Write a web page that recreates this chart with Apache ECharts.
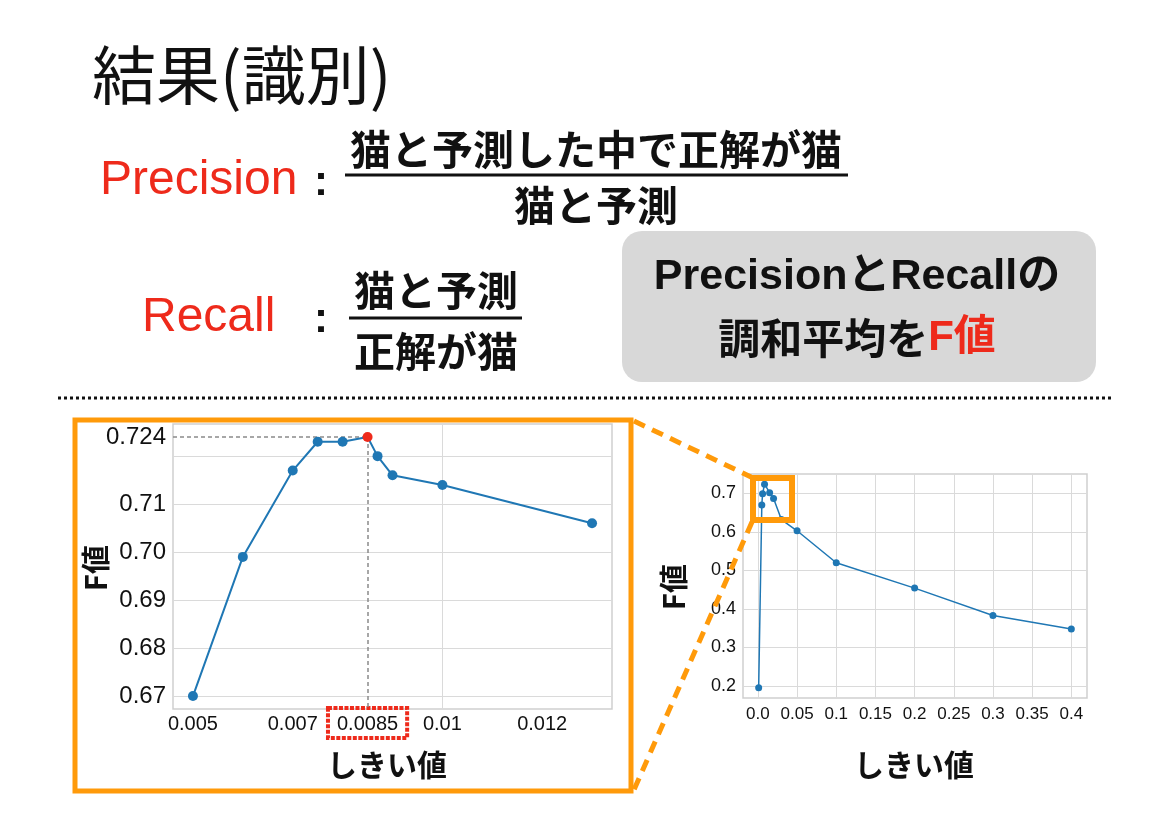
<!DOCTYPE html>
<html><head><meta charset="utf-8">
<script src="https://cdn.jsdelivr.net/npm/echarts@6/dist/echarts.min.js"></script>
<style>html,body{margin:0;padding:0;background:#fff;}#c{width:1169px;height:826px;}</style>
</head><body><div id="c"></div>
<script>
// ---- zoomed view (left chart) ----
const zoomThreshold = [0.005, 0.006, 0.007, 0.0075, 0.008, 0.0085, 0.0087, 0.009, 0.01, 0.013];
const zoomF = [0.670, 0.699, 0.717, 0.723, 0.723, 0.724, 0.720, 0.716, 0.714, 0.706];
const zoomXTickLabels = [0.005, 0.007, 0.0085, 0.01, 0.012];
const zoomXGrid = [0.005, 0.006, 0.007, 0.008, 0.009, 0.010, 0.011, 0.012, 0.013];
const zoomYTickLabels = [0.67, 0.68, 0.69, 0.70, 0.71, 0.724];
const zoomYGrid = [0.67, 0.68, 0.69, 0.70, 0.71, 0.72];
const zoomXRange = [0.0046, 0.0134];
const zoomYRange = [0.6673, 0.7267];
// ---- full view (right chart) ----
const fullThreshold = [0.001, 0.005, 0.006, 0.0085, 0.015, 0.02, 0.03, 0.05, 0.1, 0.2, 0.3, 0.4];
const fullF = [0.195, 0.670, 0.699, 0.724, 0.702, 0.687, 0.632, 0.603, 0.520, 0.454, 0.383, 0.348];
const fullXTicks = [0, 0.05, 0.1, 0.15, 0.2, 0.25, 0.3, 0.35, 0.4];
const fullYTicks = [0.2, 0.3, 0.4, 0.5, 0.6, 0.7];
const fullXRange = [-0.019, 0.42];
const fullYRange = [0.1685, 0.7505];

const blue = '#1f77b4', red = '#EE2A1B', orange = '#FF9A0A';
const latin = "'Liberation Sans', 'Noto Sans CJK JP', sans-serif";
const cjk = "'Noto Sans CJK JP', 'Liberation Sans', sans-serif";
const gridLine = { color: '#dadada', width: 1, type: 'solid' };
const best = zoomF.indexOf(Math.max(...zoomF));
const bestX = zoomThreshold[best], bestY = zoomF[best];
const guide = { color: '#8a8a8a', width: 1.5, type: [4, 3] };

const zoomPairs = zoomThreshold.map((x, i) => i === best
  ? { value: [x, zoomF[i]], itemStyle: { color: red } } : [x, zoomF[i]]);
const fullPairs = fullThreshold.map((x, i) => [x, fullF[i]]);

function axisCommon(extra) {
  return Object.assign({ type: 'value', axisLine: { show: false }, axisTick: { show: false }, splitLine: { show: false } }, extra);
}
const labelBox = { fontSize: 20, color: '#111', fontFamily: latin, padding: [6, 9, 4, 9], borderWidth: 4 };

const chart = echarts.init(document.getElementById('c'), null, { renderer: 'canvas' });
const option = {
  animation: false,
  backgroundColor: '#ffffff',
  textStyle: { fontFamily: latin },
  grid: [
    { left: 173, top: 424, width: 439, height: 285, show: true, borderColor: '#cfcfcf', borderWidth: 1.5, backgroundColor: 'transparent' },
    { left: 743, top: 474, width: 344, height: 224, show: true, borderColor: '#cfcfcf', borderWidth: 1.5, backgroundColor: 'transparent' }
  ],
  xAxis: [
    axisCommon({ gridIndex: 0, min: zoomXRange[0], max: zoomXRange[1],
      axisLabel: { customValues: zoomXTickLabels, fontSize: 20, color: '#111', margin: -1, fontFamily: latin,
        formatter: v => (Math.abs(v - bestX) < 1e-9 ? '{hl|' : '{n|') + v + '}',
        rich: {
          n: Object.assign({}, labelBox, { borderColor: 'transparent' }),
          hl: Object.assign({}, labelBox, { borderColor: red, borderType: [4, 1.5] })
        } } }),
    axisCommon({ gridIndex: 1, min: fullXRange[0], max: fullXRange[1],
      axisLabel: { customValues: fullXTicks, fontSize: 17, color: '#111', margin: 8, fontFamily: latin,
        formatter: v => v === 0 ? '0.0' : String(+v.toFixed(2)) } })
  ],
  yAxis: [
    axisCommon({ gridIndex: 0, min: zoomYRange[0], max: zoomYRange[1],
      axisLabel: { customValues: zoomYTickLabels, fontSize: 24, color: '#111', margin: 7, fontFamily: latin,
        formatter: v => Math.abs(v - bestY) < 1e-9 ? String(v) : v.toFixed(2) } }),
    axisCommon({ gridIndex: 1, min: fullYRange[0], max: fullYRange[1],
      axisLabel: { customValues: fullYTicks, fontSize: 18, color: '#111', margin: 7, fontFamily: latin,
        formatter: v => v.toFixed(1) } })
  ],
  series: [
    { name: 'zoomGrid', type: 'line', xAxisIndex: 0, yAxisIndex: 0, data: zoomPairs, showSymbol: false, symbol: 'none',
      lineStyle: { opacity: 0 }, silent: true, z: 1,
      markLine: { silent: true, z: 1, symbol: ['none', 'none'], label: { show: false }, animation: false,
        data: [
          ...zoomXGrid.map(v => ({ xAxis: v, lineStyle: gridLine })),
          ...zoomYGrid.map(v => ({ yAxis: v, lineStyle: gridLine })),
          [{ coord: [zoomXRange[0], bestY], lineStyle: guide }, { coord: [bestX, bestY], lineStyle: guide }],
          [{ coord: [bestX, bestY], lineStyle: guide }, { coord: [bestX, zoomYRange[0]], lineStyle: guide }]
        ] } },
    { name: 'F値', type: 'line', xAxisIndex: 0, yAxisIndex: 0, data: zoomPairs, symbol: 'circle', symbolSize: 10,
      lineStyle: { color: blue, width: 2 }, itemStyle: { color: blue }, z: 5 },
    { name: 'fullGrid', type: 'line', xAxisIndex: 1, yAxisIndex: 1, data: fullPairs, showSymbol: false, symbol: 'none',
      lineStyle: { opacity: 0 }, silent: true, z: 1,
      markLine: { silent: true, z: 1, symbol: ['none', 'none'], label: { show: false }, animation: false,
        data: [
          ...fullXTicks.map(v => ({ xAxis: v, lineStyle: gridLine })),
          ...fullYTicks.map(v => ({ yAxis: v, lineStyle: gridLine }))
        ] } },
    { name: 'F値(全体)', type: 'line', xAxisIndex: 1, yAxisIndex: 1, data: fullPairs, symbol: 'circle', symbolSize: 7,
      lineStyle: { color: blue, width: 1.5 }, itemStyle: { color: blue }, z: 5 }
  ],
  graphic: [
    { type: 'text', x: 92, y: 75, z: 10, style: { text: '結果(識別)', fontSize: 64, fontFamily: cjk, fontWeight: 'normal', fill: '#111', align: 'left', verticalAlign: 'middle' } },
    { type: 'text', x: 100, y: 181, z: 10, style: { text: 'Precision', fontSize: 48, fontFamily: latin, fill: red, align: 'left', verticalAlign: 'middle' } },
    { type: 'text', x: 321, y: 183, z: 10, style: { text: ':', fontSize: 42, fontFamily: latin, fontWeight: 'bold', fill: '#111', align: 'center', verticalAlign: 'middle' } },
    { type: 'text', x: 596, y: 149, z: 10, style: { text: '猫と予測した中で正解が猫', fontSize: 41, fontFamily: cjk, fontWeight: 'bold', fill: '#111', align: 'center', verticalAlign: 'middle' } },
    { type: 'line', z: 10, shape: { x1: 345, y1: 175, x2: 848, y2: 175 }, style: { stroke: '#111', lineWidth: 3 } },
    { type: 'text', x: 596, y: 205, z: 10, style: { text: '猫と予測', fontSize: 41, fontFamily: cjk, fontWeight: 'bold', fill: '#111', align: 'center', verticalAlign: 'middle' } },
    { type: 'text', x: 142, y: 318, z: 10, style: { text: 'Recall', fontSize: 48, fontFamily: latin, fill: red, align: 'left', verticalAlign: 'middle' } },
    { type: 'text', x: 321, y: 320, z: 10, style: { text: ':', fontSize: 42, fontFamily: latin, fontWeight: 'bold', fill: '#111', align: 'center', verticalAlign: 'middle' } },
    { type: 'text', x: 436, y: 290, z: 10, style: { text: '猫と予測', fontSize: 41, fontFamily: cjk, fontWeight: 'bold', fill: '#111', align: 'center', verticalAlign: 'middle' } },
    { type: 'line', z: 10, shape: { x1: 349, y1: 318, x2: 522, y2: 318 }, style: { stroke: '#111', lineWidth: 3 } },
    { type: 'text', x: 436, y: 351, z: 10, style: { text: '正解が猫', fontSize: 41, fontFamily: cjk, fontWeight: 'bold', fill: '#111', align: 'center', verticalAlign: 'middle' } },
    { type: 'rect', z: 5, shape: { x: 622, y: 231, width: 474, height: 151, r: 20 }, style: { fill: '#d8d8d8' } },
    { type: 'text', x: 857, y: 277, z: 10, style: { text: 'PrecisionとRecallの', fontSize: 43, fontFamily: latin, fontWeight: 'bold', fill: '#111', align: 'center', verticalAlign: 'middle' } },
    { type: 'text', x: 857, y: 338, z: 10, style: { text: '調和平均を{r|F値}', fontSize: 42, fontFamily: cjk, fontWeight: 'bold', fill: '#111', align: 'center', verticalAlign: 'middle',
      rich: { r: { fill: red, fontSize: 42, fontFamily: latin, fontWeight: 'bold' } } } },
    { type: 'line', z: 10, shape: { x1: 58, y1: 398, x2: 1112, y2: 398 }, style: { stroke: '#111', lineWidth: 3, lineDash: [3, 3] } },
    // axis names
    { type: 'text', x: 387, y: 765, z: 10, style: { text: 'しきい値', fontSize: 30, fontFamily: cjk, fontWeight: 'bold', fill: '#111', align: 'center', verticalAlign: 'middle' } },
    { type: 'text', x: 96, y: 568, z: 10, rotation: Math.PI / 2, style: { text: 'F値', fontSize: 29, fontFamily: cjk, fontWeight: 'bold', fill: '#111', align: 'center', verticalAlign: 'middle' } },
    { type: 'text', x: 914, y: 765, z: 10, style: { text: 'しきい値', fontSize: 30, fontFamily: cjk, fontWeight: 'bold', fill: '#111', align: 'center', verticalAlign: 'middle' } },
    { type: 'text', x: 674, y: 587, z: 10, rotation: Math.PI / 2, style: { text: 'F値', fontSize: 29, fontFamily: cjk, fontWeight: 'bold', fill: '#111', align: 'center', verticalAlign: 'middle' } },
    // orange zoom annotation
    { type: 'rect', z: 20, shape: { x: 75, y: 420, width: 556, height: 371 }, style: { fill: 'none', stroke: orange, lineWidth: 5 } },
    { type: 'rect', z: 20, shape: { x: 753, y: 478, width: 39, height: 42 }, style: { fill: 'none', stroke: orange, lineWidth: 6 } },
    { type: 'line', z: 20, shape: { x1: 634, y1: 421, x2: 751, y2: 477 }, style: { stroke: orange, lineWidth: 5, lineDash: [12, 8] } },
    { type: 'line', z: 20, shape: { x1: 752, y1: 522, x2: 633, y2: 792 }, style: { stroke: orange, lineWidth: 5, lineDash: [12, 8] } }
  ]
};
chart.setOption(option);
</script>
</body></html>
